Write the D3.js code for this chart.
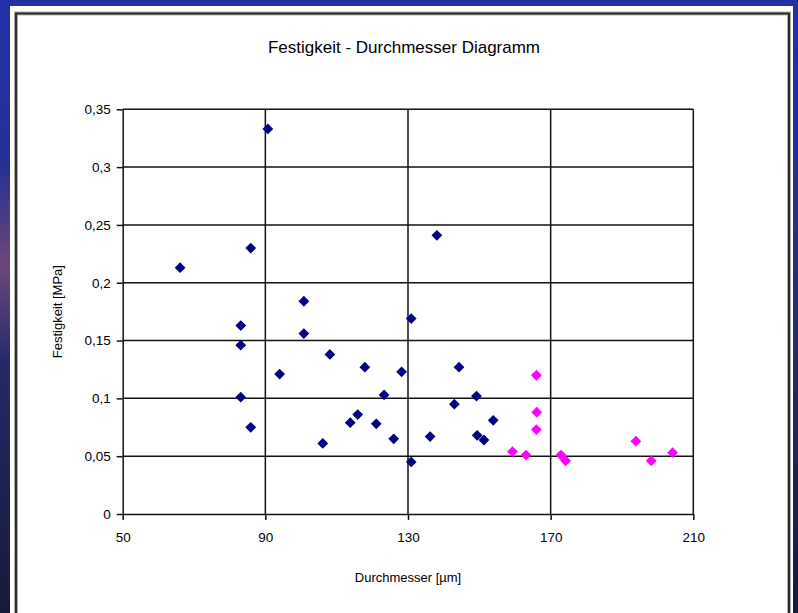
<!DOCTYPE html>
<html>
<head>
<meta charset="utf-8">
<script src="https://cdn.jsdelivr.net/npm/d3@7"></script>
<style>
  body{margin:0;padding:0;overflow:hidden;}
  svg text{font-family:"Liberation Sans",Arial,sans-serif;fill:#000;}
</style>
</head>
<body>
<div class="chart"></div>
<script>
// Werte
const blueX=[66.1,85.9,90.7,83.1,83.1,83.1,85.9,94.0,100.8,100.8,108.1,106.1,113.8,115.9,117.9,
             121.1,123.3,126.0,128.2,130.9,130.9,136.2,138.1,143.0,144.3,149.2,149.4,151.3,153.9];
const blueY=[0.213,0.230,0.333,0.163,0.146,0.101,0.075,0.121,0.184,0.156,0.138,0.061,0.079,0.086,0.127,
             0.078,0.103,0.065,0.123,0.169,0.045,0.067,0.241,0.095,0.127,0.102,0.068,0.064,0.081];
const pinkX=[159.3,163.1,166.0,166.1,166.0,172.9,174.2,193.9,198.2,204.2];
const pinkY=[0.054,0.051,0.120,0.088,0.073,0.051,0.046,0.063,0.046,0.053];

const xTicks=[50,90,130,170,210];
const yTicks=[0,0.05,0.1,0.15,0.2,0.25,0.3,0.35];

const title='Festigkeit - Durchmesser Diagramm';
const xTitle='Durchmesser [µm]';
const yTitle='Festigkeit [MPa]';

const svg_width=798, svg_height=613;
const margin={top:109.3,right:798-693.3,bottom:613-514,left:122.7};
const chart_width=svg_width-margin.left-margin.right;
const chart_height=svg_height-margin.top-margin.bottom;

const svg=d3.select('.chart').append('svg')
  .attr('width',svg_width).attr('height',svg_height);

// Folienhintergrund
const defs=svg.append('defs');
const lg=defs.append('linearGradient').attr('id','bg').attr('x1',0).attr('y1',0).attr('x2',0).attr('y2',1);
lg.append('stop').attr('offset','0%').attr('stop-color','#2032a6');
lg.append('stop').attr('offset','35%').attr('stop-color','#25318f');
lg.append('stop').attr('offset','60%').attr('stop-color','#252a66');
lg.append('stop').attr('offset','100%').attr('stop-color','#171a3c');
const rg=defs.append('radialGradient').attr('id','glow')
  .attr('cx',0).attr('cy',0.43).attr('r',0.16);
rg.append('stop').attr('offset','0%').attr('stop-color','#7a4a7a').attr('stop-opacity',0.85);
rg.append('stop').attr('offset','100%').attr('stop-color','#7a4a7a').attr('stop-opacity',0);

svg.append('rect').attr('width',svg_width).attr('height',svg_height).attr('fill','url(#bg)');
svg.append('rect').attr('width',svg_width).attr('height',svg_height).attr('fill','url(#glow)');

// Diagrammfläche
svg.append('rect').attr('x',10).attr('y',6).attr('width',783).attr('height',620).attr('fill','#fff');
svg.append('rect').attr('x',16).attr('y',13.5).attr('width',773).attr('height',620)
  .attr('fill','none').attr('stroke','#b0b0b0').attr('stroke-width',4);
svg.append('rect').attr('x',16).attr('y',13.5).attr('width',773).attr('height',620)
  .attr('fill','none').attr('stroke','#2a2a2a').attr('stroke-width',2);

const g=svg.append('g').attr('transform',`translate(${margin.left},${margin.top})`);

const xScale=d3.scaleLinear().domain([50,210]).range([0,chart_width]);
const yScale=d3.scaleLinear().domain([0,0.35]).range([chart_height,0]);
const fmt=d=>String(d).replace('.',',');

// Gitternetz
g.append('g').selectAll('line').data(yTicks.slice(1)).enter().append('line')
  .attr('x1',0).attr('x2',chart_width)
  .attr('y1',d=>yScale(d)).attr('y2',d=>yScale(d))
  .attr('stroke','#111').attr('stroke-width',1.5);
g.append('g').selectAll('line').data(xTicks.slice(1)).enter().append('line')
  .attr('y1',0).attr('y2',chart_height)
  .attr('x1',d=>xScale(d)).attr('x2',d=>xScale(d))
  .attr('stroke','#111').attr('stroke-width',1.5);

// Achsen
const xAxis=d3.axisBottom(xScale).tickValues(xTicks).tickFormat(fmt).tickSizeInner(6).tickSizeOuter(0).tickPadding(12);
const xAxisDraw=g.append('g').attr('transform',`translate(0,${chart_height})`).call(xAxis);
const yAxis=d3.axisLeft(yScale).tickValues(yTicks).tickFormat(fmt).tickSizeInner(6).tickSizeOuter(0).tickPadding(6);
const yAxisDraw=g.append('g').call(yAxis);
[xAxisDraw,yAxisDraw].forEach(a=>{
  a.select('.domain').attr('stroke','#111').attr('stroke-width',1.5);
  a.selectAll('.tick line').attr('stroke','#111').attr('stroke-width',1.5);
  a.selectAll('text').style('font-size','13.5px').attr('font-family','"Liberation Sans",Arial,sans-serif');
});

// Punkte
const diamond=d3.symbol().type(d3.symbolSquare).size(58);
const blueData=blueX.map((x,i)=>({x:x,y:blueY[i]}));
const pinkData=pinkX.map((x,i)=>({x:x,y:pinkY[i]}));
g.append('g').selectAll('path').data(blueData).enter().append('path')
  .attr('d',diamond)
  .attr('transform',d=>`translate(${xScale(d.x)},${yScale(d.y)}) rotate(45)`)
  .attr('fill','#000080');
g.append('g').selectAll('path').data(pinkData).enter().append('path')
  .attr('d',diamond)
  .attr('transform',d=>`translate(${xScale(d.x)},${yScale(d.y)}) rotate(45)`)
  .attr('fill','#ff00ff');

// Beschriftung
svg.append('text').attr('x',404).attr('y',53).attr('text-anchor','middle')
  .style('font-size','17px').text(title);
svg.append('text').attr('x',margin.left+chart_width/2).attr('y',582).attr('text-anchor','middle')
  .style('font-size','13px').text(xTitle);
svg.append('text').attr('transform',`translate(62,${margin.top+chart_height/2}) rotate(-90)`)
  .attr('text-anchor','middle').style('font-size','13px').text(yTitle);
</script>
</body>
</html>
